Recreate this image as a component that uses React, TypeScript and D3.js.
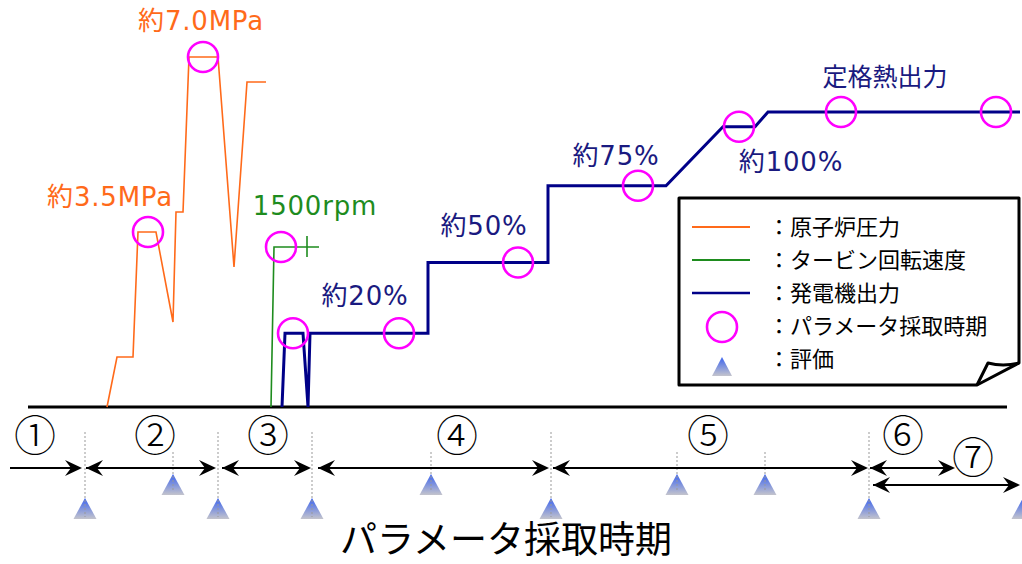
import React from "react";
import * as d3 from "d3";

// time axis is arbitrary (0-100), each series has its own value scale
const pressureT = [9.7, 10.7, 12.3, 12.8, 14.6, 16.3, 16.6, 17.3, 17.9, 20.8, 22.4, 23.7, 25.6];
const pressureV = [0, 1.0, 1.0, 3.5, 3.5, 1.7, 3.9, 3.9, 7.0, 7.0, 2.8, 6.5, 6.5];

const turbineT = [26.1, 26.4, 30.9];
const turbineV = [0, 1500, 1500];
const turbineTickT = 29.7;

const genT = [27.2, 27.5, 29.3, 29.8, 30.0, 41.8, 41.8, 53.8, 53.8, 65.6, 71.3, 74.5, 75.8, 101.0];
const genV = [0, 25, 25, 0, 25, 25, 49, 49, 75, 75, 95, 95, 100, 100];

const sampleT = [19.3, 13.8, 27.1, 28.3, 38.9, 50.8, 62.8, 72.9, 83.1, 98.6];
const sampleSeries = ["p", "p", "r", "g", "g", "g", "g", "g", "g", "g"];
const sampleV = [7.0, 3.5, 1500, 25, 25, 49, 75, 95, 100, 100];

const labelText = ["約7.0MPa", "約3.5MPa", "1500rpm", "約20%", "約50%", "約75%", "約100%", "定格熱出力"];
const labelSeries = ["p", "p", "r", "g", "g", "g", "g", "g"];
const labelT = [19.1, 10.0, 30.5, 35.5, 47.4, 60.6, 78.1, 87.5];
const labelV = [7.54, 4.02, 1800, 34.6, 58.3, 82, 80, 108.8];

const legendNames = ["原子炉圧力", "タービン回転速度", "発電機出力", "パラメータ採取時期", "評価"];

const phaseNames = ["①", "②", "③", "④", "⑤", "⑥", "⑦"];
const phaseLabelT = [2.5, 14.5, 25.8, 44.7, 69.8, 89.3, 96.3];
const phaseStart = [0, 7.6, 21.2, 30.8, 54.3, 86.0, 86.3];
const phaseEnd = [7.2, 20.6, 30.1, 53.9, 85.8, 94.5, 101.0];
const phaseRow = [0, 0, 0, 0, 0, 0, 1];
const phaseLeftHead = [false, true, true, true, true, true, true];

const boundaryT = [7.5, 20.8, 30.2, 54.1, 85.9];
const midEvalT = [16.3, 42.1, 66.7, 75.5];
const edgeEvalT = [101.3];

const ORANGE = "#ff6a1a";
const GREEN = "#1e8c1e";
const NAVY = "#000088";
const NAVY_TEXT = "#1a1a80";
const MAGENTA = "#ff00ff";
const FONT = "'Noto Sans CJK JP', 'Noto Sans', sans-serif";
const LABEL_FONT = "'DejaVu Sans', 'Noto Sans CJK JP', sans-serif";

const x = d3.scaleLinear().domain([0, 100]).range([10, 1010]);
const yP = d3.scaleLinear().domain([0, 7]).range([407, 57]);
const yR = d3.scaleLinear().domain([0, 1500]).range([407, 247]);
const yG = d3.scaleLinear().domain([0, 100]).range([407, 112]);
const yOf = (s: string) => (s === "p" ? yP : s === "r" ? yR : yG);

const line = d3.line<[number, number]>();

const Triangle = ({ cx, top }: { cx: number; top: number }) => (
  <path d={`M${cx},${top} L${cx + 11.5},${top + 21} L${cx - 11.5},${top + 21} Z`} fill="url(#triGrad)" />
);

const Head = ({ px, py, dir }: { px: number; py: number; dir: number }) => (
  <path
    d={`M0,0 L-17,-8 L-11,0 L-17,8 Z`}
    transform={`translate(${px},${py}) scale(${dir},1)`}
    fill="#000"
  />
);

export default function App() {
  const pLine = line(pressureT.map((t, i) => [x(t), yP(pressureV[i])]));
  const rLine = line(turbineT.map((t, i) => [x(t), yR(turbineV[i])]));
  const gLine = line(genT.map((t, i) => [x(t), yG(genV[i])]));
  const rowY = [468, 485];

  return (
    <svg width={1022} height={564} style={{ position: "absolute", left: 0, top: 0, background: "#fff" }} fontFamily={FONT}>
      <defs>
        <linearGradient id="triGrad" x1="0" y1="0" x2="0" y2="1">
          <stop offset="0" stopColor="#3a62ee" />
          <stop offset="1" stopColor="#c4c4cc" />
        </linearGradient>
      </defs>

      {/* baseline */}
      <line x1={x(1.8)} x2={x(99.7)} y1={yG(0)} y2={yG(0)} stroke="#000" strokeWidth={3} />

      <path d={pLine!} fill="none" stroke={ORANGE} strokeWidth={1.6} />
      <path d={rLine!} fill="none" stroke={GREEN} strokeWidth={1.6} />
      <line x1={x(turbineTickT)} x2={x(turbineTickT)} y1={yR(1500) - 11} y2={yR(1500) + 10} stroke={GREEN} strokeWidth={1.6} />
      <path d={gLine!} fill="none" stroke={NAVY} strokeWidth={3} strokeLinejoin="miter" />

      {sampleT.map((t, i) => (
        <circle key={i} cx={x(t)} cy={yOf(sampleSeries[i])(sampleV[i])} r={15} fill="none" stroke={MAGENTA} strokeWidth={2.6} />
      ))}

      {labelText.map((s, i) => (
        <text
          key={i}
          x={x(labelT[i])}
          y={yOf(labelSeries[i])(labelV[i])}
          textAnchor="middle"
          fontFamily={LABEL_FONT}
          fontSize={i === 7 ? 25 : 26}
          letterSpacing={i === 7 ? 0 : 0.8}
          fill={labelSeries[i] === "p" ? ORANGE : labelSeries[i] === "r" ? GREEN : NAVY_TEXT}
        >
          {s}
        </text>
      ))}

      {/* legend */}
      <path d="M679,198 L1019,198 L1019,363 L977,385 L679,385 Z" fill="#fff" stroke="#000" strokeWidth={3} strokeLinejoin="round" />
      <path d="M977,385 L988,363 Q1003,367 1019,363" fill="none" stroke="#000" strokeWidth={3} strokeLinejoin="round" />
      {[ORANGE, GREEN, NAVY].map((c, i) => (
        <line key={i} x1={692} x2={750} y1={227 + i * 33} y2={227 + i * 33} stroke={c} strokeWidth={i === 2 ? 2.5 : 2} />
      ))}
      <circle cx={722} cy={327} r={15} fill="none" stroke={MAGENTA} strokeWidth={2.6} />
      <path d="M722,357 L732,376 L712,376 Z" fill="url(#triGrad)" />
      {legendNames.map((s, i) => (
        <text key={i} x={768} y={235 + i * 33} fontSize={22} fill="#000">
          {"：" + s}
        </text>
      ))}

      {/* evaluation triangles */}
      {midEvalT.map((t, i) => (
        <Triangle key={"m" + i} cx={x(t)} top={474} />
      ))}
      {boundaryT.concat(edgeEvalT).map((t, i) => (
        <Triangle key={"b" + i} cx={x(t)} top={498} />
      ))}

      {/* dotted guides */}
      {boundaryT.map((t, i) => (
        <line key={"db" + i} x1={x(t)} x2={x(t)} y1={432} y2={517} stroke="#999" strokeWidth={1} strokeDasharray="2,2" />
      ))}
      {midEvalT.map((t, i) => (
        <line key={"dm" + i} x1={x(t)} x2={x(t)} y1={452} y2={490} stroke="#999" strokeWidth={1} strokeDasharray="2,2" />
      ))}

      {/* phase arrows */}
      {phaseNames.map((s, i) => {
        const yy = rowY[phaseRow[i]];
        return (
          <g key={i}>
            <line x1={x(phaseStart[i])} x2={x(phaseEnd[i]) - 10} y1={yy} y2={yy} stroke="#000" strokeWidth={2} />
            <Head px={x(phaseEnd[i])} py={yy} dir={1} />
            {phaseLeftHead[i] && <Head px={x(phaseStart[i])} py={yy} dir={-1} />}
            <text x={x(phaseLabelT[i])} y={phaseRow[i] === 0 ? 451 : 473} textAnchor="middle" fontSize={42} fontWeight={300} fill="#000">
              {s}
            </text>
          </g>
        );
      })}

      <text x={506} y={553} textAnchor="middle" fontSize={37} fill="#000">
        パラメータ採取時期
      </text>
    </svg>
  );
}
